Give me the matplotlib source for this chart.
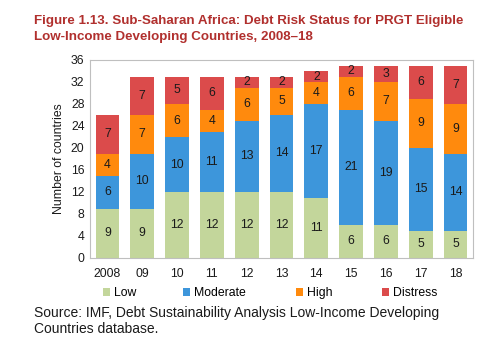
import matplotlib
matplotlib.use("Agg")
import matplotlib.pyplot as plt
from matplotlib.patches import Patch
import numpy as np

plt.rcParams['font.family'] = ['Liberation Sans', 'DejaVu Sans']

years = ["2008", "09", "10", "11", "12", "13", "14", "15", "16", "17", "18"]
low = [9, 9, 12, 12, 12, 12, 11, 6, 6, 5, 5]
moderate = [6, 10, 10, 11, 13, 14, 17, 21, 19, 15, 14]
high = [4, 7, 6, 4, 6, 5, 4, 6, 7, 9, 9]
distress = [7, 7, 5, 6, 2, 2, 2, 2, 3, 6, 7]

series = [("Low", low, "#C3D69B"),
          ("Moderate", moderate, "#3D96DB"),
          ("High", high, "#FF8A0D"),
          ("Distress", distress, "#DB4B4B")]

fig = plt.figure(figsize=(4.98, 3.42), dpi=100)
ax = fig.add_axes([90/498, 1 - 258/342, 383/498, 198/342])

x = np.arange(len(years))
bottom = np.zeros(len(years))
for name, vals, col in series:
    vals = np.array(vals, dtype=float)
    ax.bar(x, vals, 0.68, bottom=bottom, color=col, label=name, zorder=2)
    for xi, b, v in zip(x, bottom, vals):
        ax.text(xi, b + v / 2, f"{int(v)}", ha="center", va="center",
                fontsize=8.8, color="#1a1a1a", zorder=3)
    bottom += vals

ax.set_xlim(-0.5, len(years) - 0.5)
ax.set_ylim(0, 36)
ax.set_yticks(range(0, 37, 4))
ax.set_xticks(x)
ax.set_xticklabels(years)
ax.tick_params(axis="both", length=0, labelsize=8.8, colors="#1a1a1a")
ax.tick_params(axis="x", pad=7)
ax.tick_params(axis="y", pad=4)
for side, sp in ax.spines.items():
    sp.set_color("#BFBFBF")
    sp.set_linewidth(0.8)
ax.set_ylabel("Number of countries", fontsize=8.8, color="#1a1a1a", labelpad=4)

fig.text(34/498, 1 - 29/342, "Figure 1.13. Sub-Saharan Africa: Debt Risk Status for PRGT Eligible\nLow-Income Developing Countries, 2008\u201318",
         fontsize=9.65, fontweight="bold", color="#B1302E", ha="left", va="center",
         linespacing=1.35)

# legend entries placed individually along one row
legend_x = [103, 183, 296, 382]
for (name, _, col), lx in zip(series, legend_x):
    fig.legend([Patch(facecolor=col)], [name], loc="center left",
               bbox_to_anchor=(lx/498, 1 - 293/342), frameon=False,
               fontsize=8.8, handlelength=0.6, handleheight=0.6,
               handletextpad=0.3, borderpad=0, borderaxespad=0)

fig.text(34/498, 1 - 321/342, "Source: IMF, Debt Sustainability Analysis Low-Income Developing\nCountries database.",
         fontsize=10, color="#1a1a1a", ha="left", va="center", linespacing=1.22)

fig.savefig("out.png", dpi=100)
